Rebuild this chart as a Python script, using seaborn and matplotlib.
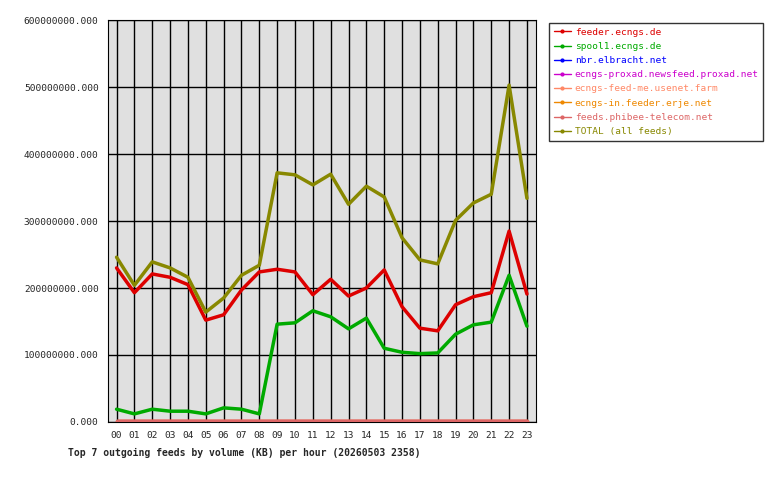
import matplotlib
matplotlib.use("Agg")
import matplotlib.pyplot as plt
import seaborn as sns
import pandas as pd
from matplotlib.ticker import FuncFormatter, MultipleLocator

hours = [f"{h:02d}" for h in range(24)]

# values in millions of KB
feeder = [230, 193, 221, 216, 205, 152, 160, 197, 224, 228, 224, 190,
          213, 188, 200, 227, 172, 140, 136, 175, 187, 193, 285, 191]
spool1 = [19, 12, 19, 16, 16, 12, 21, 19, 12, 146, 148, 166,
          157, 139, 155, 110, 104, 102, 103, 131, 145, 149, 219, 143]
nbr = [0.5] * 24
proxad = [0.8] * 24
usenet_farm = [1.0] * 24
erje = [1.2] * 24
phibee = [1.5] * 24
total = [246, 204, 239, 230, 216, 164, 185, 219, 234, 372, 369, 354,
         370, 325, 352, 336, 275, 242, 236, 301, 327, 340, 503, 334]

feeds = ["feeder.ecngs.de", "spool1.ecngs.de", "nbr.elbracht.net",
         "ecngs-proxad.newsfeed.proxad.net", "ecngs-feed-me.usenet.farm",
         "ecngs-in.feeder.erje.net", "feeds.phibee-telecom.net", "TOTAL (all feeds)"]
series = [feeder, spool1, nbr, proxad, usenet_farm, erje, phibee, total]
colors = ["#dd0000", "#00aa00", "#0000ff", "#cc00cc", "#ff8866",
          "#ee8800", "#dd6666", "#888800"]

rows = []
for name, vals in zip(feeds, series):
    for h, v in zip(range(24), vals):
        rows.append({"hour": h, "kb": v * 1e6, "feed": name})
df = pd.DataFrame(rows)

sns.set_style("white")
plt.rcParams['font.family'] = ['DejaVu Sans Mono']
plt.rcParams['font.size'] = 6.8

fig = plt.figure(figsize=(7.8, 4.8), dpi=100)
ax = fig.add_axes([0.138, 0.121, 0.549, 0.837])
ax.set_facecolor("#e0e0e0")

sns.lineplot(data=df, x="hour", y="kb", hue="feed", hue_order=feeds,
             palette=colors, linewidth=2.5, ax=ax, legend=False,
             marker="", zorder=3)

ax.set_xlim(-0.5, 23.5)
ax.set_ylim(0, 600e6)
ax.set_xticks(range(24))
ax.set_xticklabels(hours)
ax.yaxis.set_major_locator(MultipleLocator(100e6))
ax.yaxis.set_major_formatter(FuncFormatter(lambda v, p: f"{v:.3f}"))
ax.grid(True, color="black", linewidth=1, zorder=1)
ax.set_axisbelow(True)
for s in ax.spines.values():
    s.set_color("black")
ax.set_xlabel("")
ax.set_ylabel("")
ax.tick_params(length=3, color="black", labelsize=6.8)

handles = [plt.Line2D([], [], color=c, marker="o", markersize=2, linewidth=1)
           for c in colors]
leg = fig.legend(handles, feeds, loc="upper left",
                 bbox_to_anchor=(0.698, 0.962), frameon=True, fancybox=False,
                 handlelength=1.8, handletextpad=0.4, borderpad=0.5,
                 labelspacing=0.55, fontsize=6.8)
leg.get_frame().set_edgecolor("black")
for t, c in zip(leg.get_texts(), colors):
    t.set_color(c)

fig.text(0.087, 0.05, "Top 7 outgoing feeds by volume (KB) per hour (20260503 2358)",
         fontweight="bold", fontsize=7)

fig.savefig("out.png", dpi=100)
